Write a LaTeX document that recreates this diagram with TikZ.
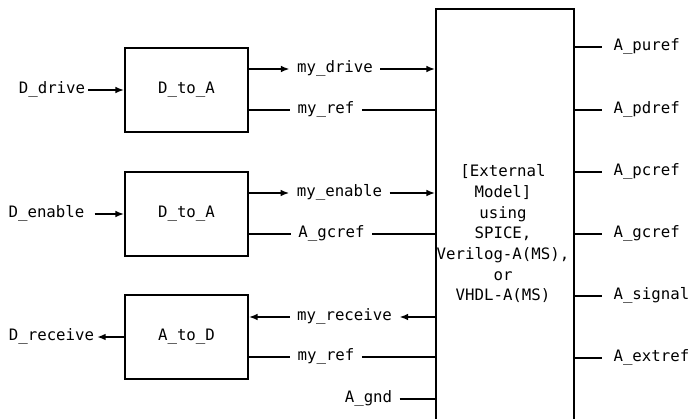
\documentclass[tikz,border=0pt]{standalone}
\usepackage{fontspec}
\newfontfamily\pinfont{DejaVu Sans Mono}
\usetikzlibrary{arrows.meta}

\begin{document}
\begin{tikzpicture}[x=.75pt,y=-.75pt,line width=1.3pt,
  >={Latex[length=6.5pt,width=5pt]},
  every node/.style={font=\pinfont\fontsize{11.8}{15.5}\selectfont},
  conv/.style={draw,minimum width=92.25pt,minimum height=63pt},
  sig/.style={inner xsep=5pt,inner ysep=1pt,text height=1.6ex,text depth=.4ex},
  pin/.style={inner xsep=1.5pt,text height=1.6ex,text depth=.4ex}]
  \useasboundingbox (0,0) rectangle (689,418);
  \clip (0,0) rectangle (689,418);
  % converter blocks
  \node (dta1) [conv] at (186.5,90) {D\_to\_A};
  \node (dta2) [conv] at (186.5,214) {D\_to\_A};
  \node (atd) [conv] at (186.5,337) {A\_to\_D};
  % model box, runs off the bottom
  \node (ext) [draw,minimum width=103.5pt,minimum height=337.5pt] at (505,234) {};
  \node (extlbl) [align=center] at (503,234)
    {[External\\Model]\\using\\SPICE,\\Verilog-A(MS),\\or\\VHDL-A(MS)};
  % digital side
  \node (ddrv) [pin] at (52,90) {D\_drive};
  \draw[->] (ddrv.east) -- (ddrv.east -| dta1.west);
  \node (den) [pin,inner xsep=7pt] at (46.5,214) {D\_enable};
  \draw[->] (den.east) -- (den.east -| dta2.west);
  \node (drcv) [pin] at (51.5,337) {D\_receive};
  \draw[->] (drcv.east -| atd.west) -- (drcv.east);
  % signals into the model
  \node (mydrv) [sig] at (335,69) {my\_drive};
  \draw[->] (dta1.east |- mydrv) -- (mydrv);
  \draw[->] (mydrv) -- (mydrv -| ext.west);
  \node (myref1) [sig] at (326,110) {my\_ref};
  \draw (dta1.east |- myref1) -- (myref1);
  \draw (myref1) -- (myref1 -| ext.west);
  \node (myen) [sig] at (339.5,193) {my\_enable};
  \draw[->] (dta2.east |- myen) -- (myen);
  \draw[->] (myen) -- (myen -| ext.west);
  \node (gcref1) [sig] at (331.5,234) {A\_gcref};
  \draw (dta2.east |- gcref1) -- (gcref1);
  \draw (gcref1) -- (gcref1 -| ext.west);
  \node (myrcv) [sig] at (344.5,317) {my\_receive};
  \draw[->] (myrcv -| ext.west) -- (myrcv);
  \draw[->] (myrcv) -- (atd.east |- myrcv);
  \node (myref2) [sig] at (326,357) {my\_ref};
  \draw (atd.east |- myref2) -- (myref2);
  \draw (myref2) -- (myref2 -| ext.west);
  \node (gnd) [sig] at (368.5,399) {A\_gnd};
  \draw (gnd) -- (gnd -| ext.west);
  % analog pins
  \foreach \nm/\y in {puref/47,pdref/110,pcref/172,gcref/234,signal/296,extref/358} {
    \node (\nm) [pin,anchor=west,inner xsep=8pt] at (602,\y) {A\_\nm};
    \draw (ext.east |- \nm) -- (\nm.west);
  }
\end{tikzpicture}
\end{document}
